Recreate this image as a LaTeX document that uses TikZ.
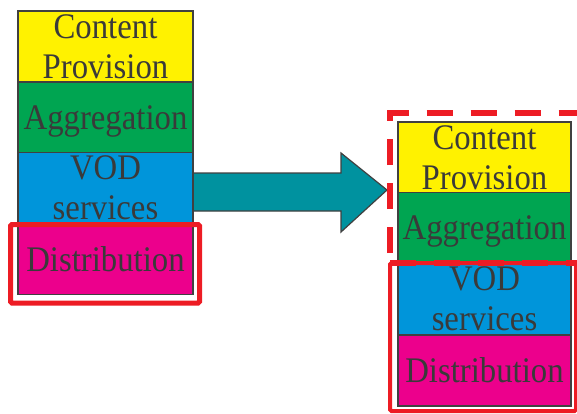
\documentclass[tikz,border=0pt]{standalone}
\usepackage{fontspec}
\setmainfont[FakeStretch=0.91]{Liberation Serif}
\definecolor{layeryellow}{HTML}{FFF200}
\definecolor{layergreen}{HTML}{00A551}
\definecolor{layerblue}{HTML}{0095DA}
\definecolor{layermagenta}{HTML}{EC008C}
\definecolor{arrowteal}{HTML}{00929F}
\definecolor{markred}{HTML}{ED1C24}
\definecolor{edgegray}{HTML}{404040}
\definecolor{textgray}{HTML}{3A3A3A}
\tikzset{
  layer/.style={draw=edgegray, line width=1.5pt, inner sep=0pt,
    minimum height=71pt, text=textgray,
    font=\fontsize{36}{40}\selectfont},
  twoline/.style={align=center},
  oneline/.style={text depth=0pt},
  leftlayer/.style={layer, minimum width=175pt},
  rightlayer/.style={layer, minimum width=173pt},
  bigarrow/.style={fill=arrowteal, draw=edgegray, line width=1.2pt, line join=miter},
  solidmark/.style={draw=markred, line width=5pt, rounded corners=1.5pt},
  dashmark/.style={draw=markred, line width=6pt, dash pattern=on 26pt off 18pt, dash phase=-10pt},
}
\begin{document}
\begin{tikzpicture}[x=1pt, y=-1pt]
  \useasboundingbox (0,0) rectangle (577,414);

  % block arrow between the two stacks
  \coordinate (shaftA) at (193,173);
  \coordinate (headA) at (341,173);
  \coordinate (headB) at (341,153);
  \coordinate (tip) at (387,190);
  \coordinate (headC) at (341,232);
  \coordinate (headD) at (341,211);
  \coordinate (shaftB) at (193,211);
  \draw[bigarrow] (shaftA) -- (headA) -- (headB) -- (tip) -- (headC) -- (headD) -- (shaftB) -- cycle;

  % left stack
  \node[leftlayer, twoline, fill=layeryellow]  (lcp)   at (105.5,46.5) {Content\\Provision};
  \node[leftlayer, oneline, fill=layergreen]   (lag)   at (105.5,117.5) {Aggregation};
  \node[leftlayer, twoline, fill=layerblue]    (lvod)  at (105.5,188) {VOD\\services};
  \node[leftlayer, oneline, fill=layermagenta] (ldist) at (105.5,259) {Distribution};

  % right stack
  \node[rightlayer, twoline, fill=layeryellow]  (rcp)   at (484.5,157.5) {Content\\Provision};
  \node[rightlayer, oneline, fill=layergreen]   (rag)   at (484.5,228) {Aggregation};
  \node[rightlayer, twoline, fill=layerblue]    (rvod)  at (484.5,299) {VOD\\services};
  \node[rightlayer, oneline, fill=layermagenta] (rdist) at (484.5,370.5) {Distribution};

  % highlight frames
  \draw[solidmark] (10.5,224.5) rectangle (199.5,303);
  \draw[solidmark, line width=4pt] (390,263) rectangle (576,411);
  \draw[dashmark] (390,263) -- (390,113.5) -- (577,113.5);
  \draw[dashmark, dash phase=0pt] (390,263) -- (577,263);
\end{tikzpicture}
\end{document}
